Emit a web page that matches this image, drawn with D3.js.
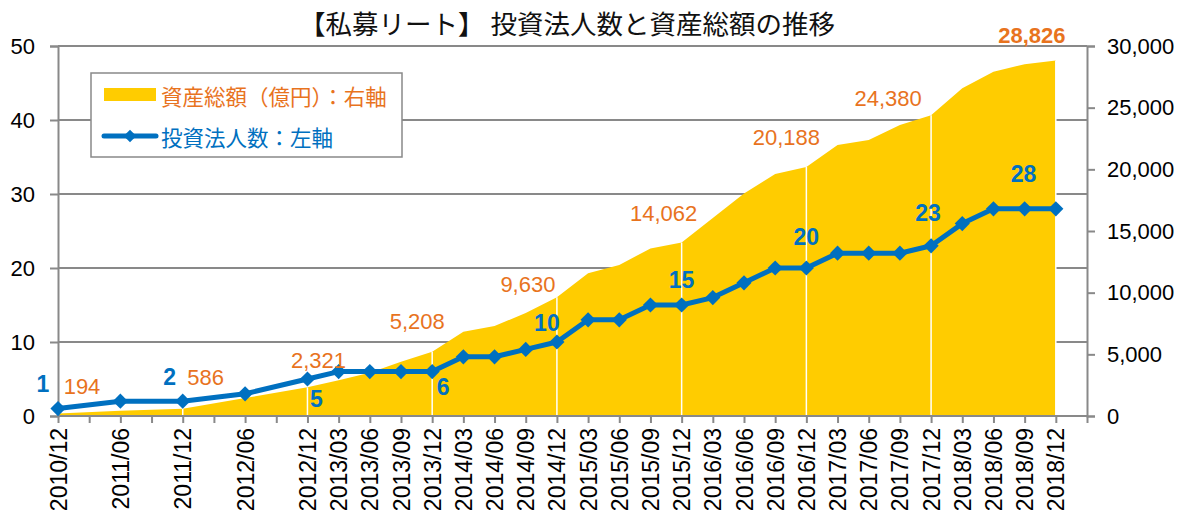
<!DOCTYPE html>
<html>
<head>
<meta charset="utf-8">
<script src="https://cdn.jsdelivr.net/npm/d3@7"></script>
<style>
  body { margin: 0; background: #fff; }
  svg text { font-family: "Liberation Sans", Arial, "Noto Sans CJK JP", sans-serif; }
</style>
</head>
<body>
<script>
// 四半期（最後の空き枠は軸の余白用）
const quarters = ["2010/12","2011/03","2011/06","2011/09","2011/12","2012/03","2012/06","2012/09",
  "2012/12","2013/03","2013/06","2013/09","2013/12","2014/03","2014/06","2014/09","2014/12",
  "2015/03","2015/06","2015/09","2015/12","2016/03","2016/06","2016/09","2016/12",
  "2017/03","2017/06","2017/09","2017/12","2018/03","2018/06","2018/09","2018/12"];
const hiddenLabels = ["2011/03","2011/09","2012/03","2012/09"];

// 投資法人数（左軸）
const funds = [1,null,2,null,2,null,3,null,5,6,6,6,6,8,8,9,10,13,13,15,15,16,18,20,20,22,22,22,23,26,28,28,28];
// 資産総額（億円、右軸）
const assets = [194,null,430,null,586,null,1450,null,2321,2900,3510,4400,5208,6840,7300,8350,9630,
  11570,12240,13590,14062,16050,18050,19620,20188,21970,22380,23600,24380,26570,27920,28520,28826];

const leftTicks = [0,10,20,30,40,50];
const rightTicks = [0,5000,10000,15000,20000,25000,30000];

// ラベルを付ける時点
const assetLabelAt = ["2010/12","2011/12","2012/12","2013/12","2014/12","2015/12","2016/12","2017/12","2018/12"];
const fundLabelAt = ["2010/12","2011/12","2012/12","2013/12","2014/12","2015/12","2016/12","2017/12","2018/09"];
// ラベルのずらし量
const assetOffsets = [[24,-27],[23,-31],[11,-27],[-15,-30],[-29,-13],[-18,-29],[-20,-30],[-43,-17],[-24,-25]];
const fundOffsets = [[-15,-25],[-13,-24],[9,20],[11,15],[-10,-19],[0,-25],[0,-31],[-3,-33],[-1,-35]];

const W = 1191, H = 520;
const plot = { left: 58, right: 1087, top: 46, bottom: 416 };
const blue = "#0070C0", orange = "#E8731E", yellow = "#FFCC00", grey = "#898989";

const svg = d3.select("body").append("svg")
  .attr("width", W).attr("height", H);

const x = d3.scalePoint()
  .domain(quarters.concat([""]))
  .range([plot.left, plot.right]);

const yL = d3.scaleLinear().domain([0, 50]).range([plot.bottom, plot.top]);
const yR = d3.scaleLinear().domain([0, 30000]).range([plot.bottom, plot.top]);

// タイトル
svg.append("text")
  .attr("x", 567).attr("y", 22)
  .attr("text-anchor", "middle")
  .attr("dominant-baseline", "central")
  .style("font-size", "26.5px")
  .style("font-family", "'Noto Sans CJK JP', sans-serif")
  .attr("fill", "#111")
  .text("【私募リート】 投資法人数と資産総額の推移");

// グリッド線
svg.append("g")
  .selectAll("line")
  .data(leftTicks.filter(d => d > 0))
  .join("line")
  .attr("x1", plot.left).attr("x2", plot.right)
  .attr("y1", d => yL(d)).attr("y2", d => yL(d))
  .attr("stroke", grey).attr("stroke-width", 2);

// 資産総額のエリア
const assetPts = quarters.map((q, i) => ({ q, v: assets[i] })).filter(d => d.v != null);
svg.append("path")
  .datum(assetPts)
  .attr("fill", yellow)
  .attr("d", d3.area().x(d => x(d.q)).y0(plot.bottom).y1(d => yR(d.v)));

// 年末の白線
svg.append("g")
  .selectAll("line")
  .data(assetLabelAt)
  .join("line")
  .attr("x1", d => x(d)).attr("x2", d => x(d))
  .attr("y1", plot.bottom)
  .attr("y2", d => yR(assets[quarters.indexOf(d)]))
  .attr("stroke", "#fff").attr("stroke-width", 1.5);

// 軸
const gL = svg.append("g")
  .attr("transform", `translate(${plot.left},0)`)
  .call(d3.axisLeft(yL).tickValues(leftTicks).tickSize(8).tickPadding(15));
const gR = svg.append("g")
  .attr("transform", `translate(${plot.right},0)`)
  .call(d3.axisRight(yR).tickValues(rightTicks).tickSize(8).tickPadding(12).tickFormat(d3.format(",")));
const gX = svg.append("g")
  .attr("transform", `translate(0,${plot.bottom})`)
  .call(d3.axisBottom(x).tickSize(7).tickPadding(5)
    .tickFormat(d => hiddenLabels.includes(d) ? "" : d));

[gL, gR, gX].forEach(g => {
  g.selectAll(".domain, .tick line").attr("stroke", grey).attr("stroke-width", 2);
  g.selectAll("text").attr("fill", "#000").style("font-size", "22px")
    .style("font-family", "'Liberation Sans', Arial, sans-serif");
});
gX.select(".domain").attr("d", `M${plot.left},0H${plot.right}`);
gX.selectAll("text")
  .style("font-size", "23px")
  .attr("text-anchor", "end")
  .attr("dominant-baseline", "central")
  .attr("transform", "rotate(-90)")
  .attr("x", -12).attr("y", 0).attr("dy", null);

// 投資法人数の折れ線
const fundPts = quarters.map((q, i) => ({ q, v: funds[i] })).filter(d => d.v != null);
svg.append("path")
  .datum(fundPts)
  .attr("fill", "none")
  .attr("stroke", blue)
  .attr("stroke-width", 5)
  .attr("stroke-linejoin", "round")
  .attr("d", d3.line().x(d => x(d.q)).y(d => yL(d.v)));

svg.append("g")
  .selectAll("path")
  .data(fundPts)
  .join("path")
  .attr("d", d3.symbol(d3.symbolSquare, 115))
  .attr("transform", d => `translate(${x(d.q)},${yL(d.v)}) rotate(45)`)
  .attr("fill", blue);

// データラベル
svg.append("g")
  .selectAll("text")
  .data(assetLabelAt)
  .join("text")
  .attr("x", (d, i) => x(d) + assetOffsets[i][0])
  .attr("y", (d, i) => yR(assets[quarters.indexOf(d)]) + assetOffsets[i][1])
  .attr("text-anchor", "middle")
  .attr("dominant-baseline", "central")
  .attr("fill", orange)
  .style("font-size", "22px")
  .style("font-weight", (d, i) => i === assetLabelAt.length - 1 ? "bold" : "normal")
  .text(d => d3.format(",")(assets[quarters.indexOf(d)]));

svg.append("g")
  .selectAll("text")
  .data(fundLabelAt)
  .join("text")
  .attr("x", (d, i) => x(d) + fundOffsets[i][0])
  .attr("y", (d, i) => yL(funds[quarters.indexOf(d)]) + fundOffsets[i][1])
  .attr("text-anchor", "middle")
  .attr("dominant-baseline", "central")
  .attr("fill", blue)
  .style("font-size", "23px")
  .style("font-weight", "bold")
  .text(d => funds[quarters.indexOf(d)]);

// 凡例
const lg = svg.append("g");
lg.append("rect")
  .attr("x", 91).attr("y", 73).attr("width", 311).attr("height", 84)
  .attr("fill", "#fff").attr("stroke", grey).attr("stroke-width", 1.5);
lg.append("rect")
  .attr("x", 104).attr("y", 88).attr("width", 52).attr("height", 13)
  .attr("fill", yellow);
lg.append("line")
  .attr("x1", 104).attr("x2", 156).attr("y1", 136).attr("y2", 136)
  .attr("stroke", blue).attr("stroke-width", 5).attr("stroke-linecap", "round");
lg.append("path")
  .attr("d", d3.symbol(d3.symbolSquare, 80))
  .attr("transform", "translate(130,136) rotate(45)")
  .attr("fill", blue);
lg.append("text")
  .attr("x", 161).attr("y", 95)
  .attr("dominant-baseline", "central")
  .attr("fill", orange)
  .style("font-size", "21.5px")
  .style("font-family", "'Noto Sans CJK JP', sans-serif")
  .text("資産総額（億円）：右軸");
lg.append("text")
  .attr("x", 161).attr("y", 136)
  .attr("dominant-baseline", "central")
  .attr("fill", blue)
  .style("font-size", "21.5px")
  .style("font-family", "'Noto Sans CJK JP', sans-serif")
  .text("投資法人数：左軸");
</script>
</body>
</html>
